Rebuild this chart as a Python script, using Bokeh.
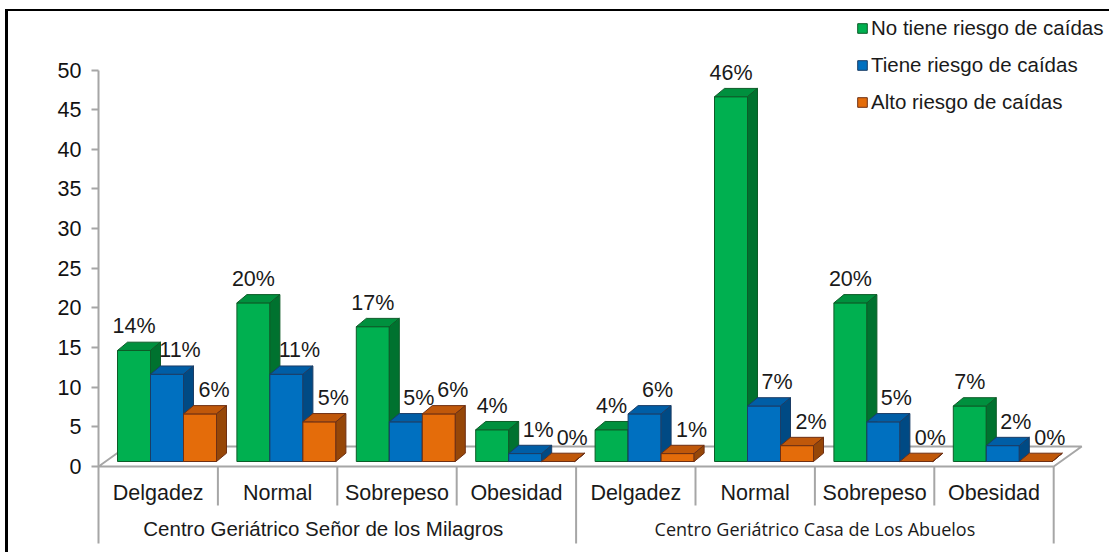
from bokeh.plotting import figure
from bokeh.models import ColumnDataSource, Range1d, FixedTicker, Legend, LegendItem
from bokeh.core.properties import value
from bokeh.embed import file_html
from bokeh.resources import INLINE

# ---------------- data ----------------
groups = ["Centro Geriátrico Señor de los Milagros", "Centro Geriátrico Casa de Los Abuelos"]
categories = ["Delgadez", "Normal", "Sobrepeso", "Obesidad"]
series_names = ["No tiene riesgo de caídas", "Tiene riesgo de caídas", "Alto riesgo de caídas"]
no_tiene_riesgo = [14, 20, 17, 4, 4, 46, 20, 7]
tiene_riesgo = [11, 11, 5, 1, 6, 7, 5, 2]
alto_riesgo = [6, 5, 6, 0, 1, 2, 0, 0]
y_ticks = [0, 5, 10, 15, 20, 25, 30, 35, 40, 45, 50]

series_values = [no_tiene_riesgo, tiene_riesgo, alto_riesgo]

# ---------------- style ----------------
front_colors = ["#00b050", "#0070c0", "#e46c0a"]
top_colors = ["#00903e", "#005ea6", "#c0580a"]
side_colors = ["#00722f", "#004a84", "#964708"]
edge_colors = ["#0d5c28", "#1b3d66", "#6e3014"]
grey = "#a6a6a6"
FONT = "Liberation Sans"
FS = "21.5px"

# ---------------- geometry (pixels) ----------------
W, H = 1104, 543
BORDER_LEFT = 90
SLOT_PX = 119.4
PX_PER_UNIT = 7.93
ZERO_PX = 455  # zero line, from frame top
frame_w = W - BORDER_LEFT
frame_h = H


def ux(px):
    return px / SLOT_PX


def uy(px):
    return px / PX_PER_UNIT


x_range = Range1d(0, ux(frame_w))
y_range = Range1d(-uy(frame_h - ZERO_PX), uy(ZERO_PX))

p = figure(width=W, height=H, x_range=x_range, y_range=y_range,
           output_backend="svg", toolbar_location=None,
           x_axis_location=None, y_axis_location="left",
           min_border_left=BORDER_LEFT, min_border_right=0,
           min_border_top=0, min_border_bottom=0,
           background_fill_color="white", border_fill_color="white",
           outline_line_color=None, margin=(9, 0, 0, 5))
p.styles = {"border-left": "3px solid #000000", "border-top": "2px solid #000000"}
p.grid.visible = False

n_slots = len(no_tiene_riesgo)
line_bottom = -uy(77)
cat_sep_bottom = -uy(39)

ax = p.yaxis[0]
ax.ticker = FixedTicker(ticks=y_ticks)
ax.bounds = (line_bottom, y_ticks[-1])
ax.axis_line_color = grey
ax.axis_line_width = 2
ax.major_tick_line_color = grey
ax.major_tick_line_width = 2
ax.major_tick_out = 7
ax.major_tick_in = 0
ax.minor_tick_line_color = None
ax.major_label_text_font = FONT
ax.major_label_text_font_size = FS
ax.major_label_text_color = "#111111"
ax.major_label_standoff = 10

# floor
fdx, fdy = ux(28), uy(20)
p.patch([0, n_slots, n_slots + fdx, fdx], [0, 0, fdy, fdy],
        fill_color="white", line_color=grey, line_width=2)

# separators
cat_seps = [i for i in range(1, n_slots) if i % len(categories) != 0]
grp_seps = [i for i in range(len(categories), n_slots + 1, len(categories))]
p.segment(x0=cat_seps, y0=[0] * len(cat_seps), x1=cat_seps, y1=[cat_sep_bottom] * len(cat_seps),
          line_color=grey, line_width=2)
p.segment(x0=grp_seps, y0=[0] * len(grp_seps), x1=grp_seps, y1=[line_bottom] * len(grp_seps),
          line_color=grey, line_width=2)

# bars (3D look)
off = ux(19)
bw = ux(33)
dx = ux(10)
dy = uy(8.3)
base = uy(5)
label_dx = [ux(0), ux(13), ux(14)]
label_dy = uy(24)

legend_items = []
for j, vals in enumerate(series_values):
    L = [i + off + j * bw for i in range(n_slots)]
    R = [l + bw for l in L]
    B = [base] * n_slots
    T = [base + v for v in vals]
    front = p.quad(left=L, right=R, bottom=B, top=T,
                   fill_color=front_colors[j], line_color=edge_colors[j], line_width=1)
    top_xs = [[l, l + dx, r + dx, r] for l, r in zip(L, R)]
    top_ys = [[t, t + dy, t + dy, t] for t in T]
    p.patches(top_xs, top_ys, fill_color=top_colors[j], line_color=edge_colors[j], line_width=1)
    side_xs = [[r, r, r + dx, r + dx] for r in R]
    side_ys = [[b, t, t + dy, b + dy] for b, t in zip(B, T)]
    p.patches(side_xs, side_ys, fill_color=side_colors[j], line_color=edge_colors[j], line_width=1)
    legend_items.append(LegendItem(label=series_names[j], renderers=[front]))

# value labels
for j, vals in enumerate(series_values):
    src = ColumnDataSource(dict(
        x=[i + off + j * bw + bw / 2 + label_dx[j] for i in range(n_slots)],
        y=[base + v + label_dy for v in vals],
        t=[f"{v}%" for v in vals]))
    p.text(x="x", y="y", text="t", source=src, text_align="center", text_baseline="middle",
           text_font=value(FONT), text_font_size=FS, text_color="#1a1a1a")

# category labels
cat_src = ColumnDataSource(dict(
    x=[i + 0.5 for i in range(n_slots)],
    y=[-uy(26)] * n_slots,
    t=[categories[i % len(categories)] for i in range(n_slots)]))
p.text(x="x", y="y", text="t", source=cat_src, text_align="center", text_baseline="middle",
       text_font=value(FONT), text_font_size=FS, text_color="#1a1a1a")

# group labels
gw = len(categories)
p.text(x=[gw / 2 - ux(14)], y=[-uy(62)], text=[groups[0]], text_align="center", text_baseline="middle",
       text_font=value(FONT), text_font_size="20.5px", text_color="#1a1a1a")
p.text(x=[gw + gw / 2], y=[-uy(62)], text=[groups[1]], text_align="center", text_baseline="middle",
       text_font=value("Open Sans"), text_font_size="18px", text_color="#1a1a1a")

legend = Legend(items=legend_items, location=(758, 440), orientation="vertical",
                glyph_width=12, glyph_height=12, label_standoff=3, spacing=13,
                padding=0, margin=0, border_line_color=None, background_fill_alpha=0,
                label_text_font=FONT, label_text_font_size="20.5px", label_text_color="#1a1a1a")
p.add_layout(legend)

open("out.html", "w").write(file_html(p, INLINE))
